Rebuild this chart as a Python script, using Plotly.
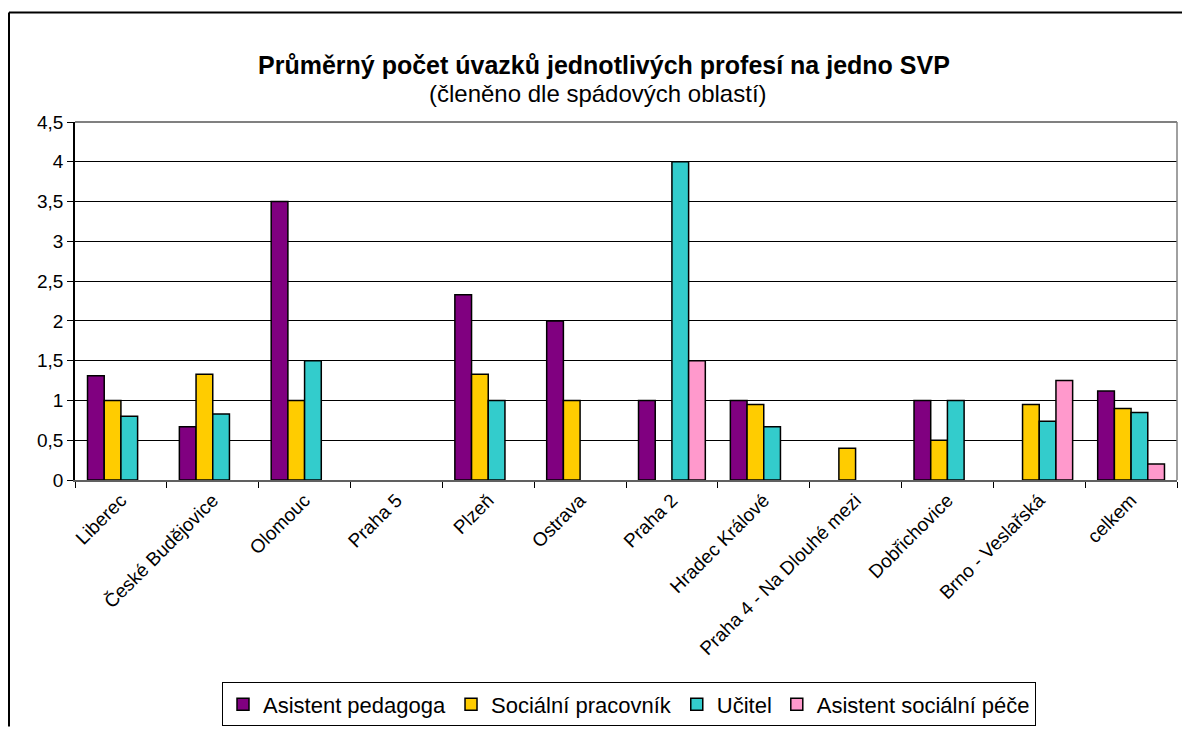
import plotly.graph_objects as go

# Data
regions = [
    "Liberec", "České Budějovice", "Olomouc", "Praha 5", "Plzeň", "Ostrava",
    "Praha 2", "Hradec Králové", "Praha 4 - Na Dlouhé mezi", "Dobřichovice",
    "Brno - Veslařská", "celkem",
]
asistent_pedagoga = [1.31, 0.67, 3.5, None, 2.33, 2.0, 1.0, 1.0, None, 1.0, None, 1.12]
socialni_pracovnik = [1.0, 1.33, 1.0, None, 1.33, 1.0, None, 0.95, 0.4, 0.5, 0.95, 0.9]
ucitel = [0.8, 0.83, 1.5, None, 1.0, None, 4.0, 0.67, None, 1.0, 0.74, 0.85]
asistent_socialni_pece = [None, None, None, None, None, None, 1.5, None, None, None, 1.25, 0.2]

series = [
    ("Asistent pedagoga", asistent_pedagoga, "#800080"),
    ("Sociální pracovník", socialni_pracovnik, "#FFCC00"),
    ("Učitel", ucitel, "#33CCCC"),
    ("Asistent sociální péče", asistent_socialni_pece, "#FF99CC"),
]

FONT = "Liberation Sans, Arial, sans-serif"

fig = go.Figure()
for name, vals, color in series:
    fig.add_trace(go.Bar(
        x=regions, y=vals, name=name,
        marker=dict(color=color, line=dict(color="black", width=1.5)),
    ))

# the page body has an 8px margin; positions below are page pixels
OFF = 8
W, H = 1190 - 2 * OFF, 740 - 2 * OFF
L, R, T, B = 75 - OFF, 1177 - OFF, 122 - OFF, 488 - OFF


def px_x(p):
    return (p - OFF - L) / (R - L)


def px_y(p):
    return (B - (p - OFF)) / (B - T)


fig.update_layout(
    width=W, height=H,
    margin=dict(l=L, r=W - R, t=T, b=H - B),
    paper_bgcolor="white", plot_bgcolor="white",
    barmode="group", bargap=1.5 / 5.5, bargroupgap=0,
    separators=", ",
    font=dict(family=FONT, size=19, color="black"),
    showlegend=True,
    legend=dict(
        orientation="h", x=px_x(629), xanchor="center", y=px_y(695), yanchor="top",
        bordercolor="black", borderwidth=1, font=dict(size=22),
        itemwidth=30, tracegroupgap=0,
    ),
    annotations=[
        dict(text="<b>Průměrný počet úvazků jednotlivých profesí na jedno SVP</b>",
             x=px_x(604), y=px_y(47), xref="paper", yref="paper",
             showarrow=False, font=dict(size=25)),
        dict(text="(členěno dle spádových oblastí)",
             x=px_x(598), y=px_y(77), xref="paper", yref="paper",
             showarrow=False, font=dict(size=24)),
    ],
    shapes=[
        # outer chart border (top and left edges visible in the crop)
        dict(type="line", xref="paper", yref="paper",
             x0=px_x(9), x1=px_x(1190), y0=px_y(10), y1=px_y(10),
             line=dict(color="black", width=2)),
        dict(type="line", xref="paper", yref="paper",
             x0=px_x(9), x1=px_x(9), y0=px_y(10), y1=px_y(740),
             line=dict(color="black", width=2)),
        # gray plot frame top and right
        dict(type="line", xref="paper", yref="paper", x0=0, x1=1, y0=1, y1=1,
             line=dict(color="#808080", width=2)),
        dict(type="line", xref="paper", yref="paper", x0=1, x1=1, y0=0, y1=1,
             line=dict(color="#808080", width=1.5)),
    ],
)

fig.update_xaxes(
    type="category", tickangle=-45, tickson="boundaries",
    ticks="outside", ticklen=6, tickcolor="black",
    showline=True, linecolor="#606060", linewidth=1.5,
    showgrid=False, tickfont=dict(size=19),
)
fig.update_yaxes(
    range=[0, 4.5], dtick=0.5, tickformat=".1~f",
    ticks="outside", ticklen=6, tickcolor="black",
    showline=True, linecolor="black", linewidth=1.5,
    showgrid=True, gridcolor="black", gridwidth=1,
    zeroline=False, tickfont=dict(size=19),
)

fig.write_html("out.html")
